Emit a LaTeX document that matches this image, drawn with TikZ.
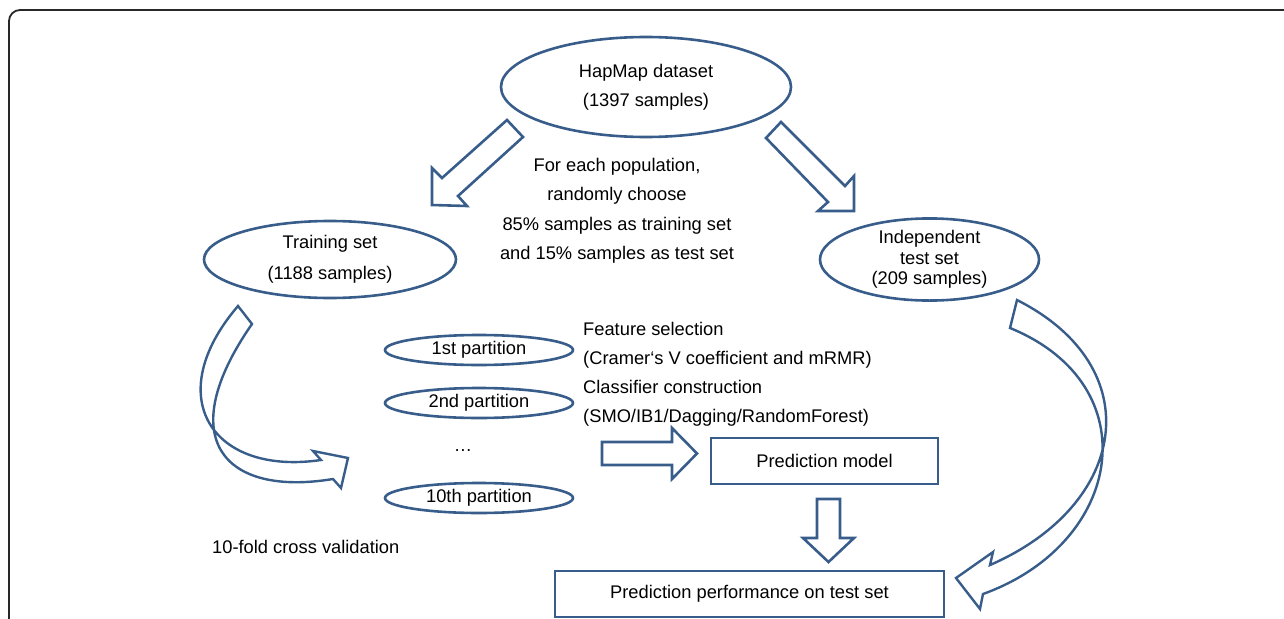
\documentclass[tikz,border=0pt]{standalone}
\usepackage{fontspec}
\setmainfont{Liberation Sans}
\usetikzlibrary{shapes.geometric}
\definecolor{flowblue}{RGB}{56,93,138}
\definecolor{framegray}{RGB}{40,40,40}

\begin{document}
\begin{tikzpicture}[x=1pt,y=-1pt,
  every node/.style={font=\fontsize{18.3}{22}\selectfont, text=black, inner sep=0pt},
  oval/.style={ellipse, draw=flowblue, line width=2.6pt, align=center},
  flowbox/.style={rectangle, draw=flowblue, line width=2.6pt},
  hollow/.style={draw=flowblue, line width=2.6pt, line join=miter},
  bent/.style={draw=flowblue, line width=2.4pt, line join=miter},
]
\useasboundingbox (0,0) rectangle (1284,618);

% outer frame, running off the right and bottom edges
\begin{scope}
  \clip (0,0) rectangle (1284,618);
  \draw[framegray, line width=1.8pt, rounded corners=11pt] (9,700) -- (9,10) -- (1340,10);
\end{scope}

% data sets
\node[oval, minimum width=290, minimum height=100, font=\fontsize{18.3}{29}\selectfont]
  (hapmap) at (646,87) {HapMap dataset\\(1397 samples)};
\node[oval, minimum width=252, minimum height=77, font=\fontsize{18.3}{31}\selectfont]
  (train) at (330,259.5) {Training set\\(1188 samples)};
\node[oval, minimum width=219, minimum height=75, font=\fontsize{18.3}{20.5}\selectfont]
  (test) at (929.5,259.5) {Independent\\test set\\(209 samples)};

\node[align=center, font=\fontsize{18.3}{29.5}\selectfont] (split) at (617,211)
  {For each population,\\randomly choose\\85\% samples as training set\\and 15\% samples as test set};

% partitions of the training set
\node[oval, minimum width=188, minimum height=30] (p1) at (479,350) {1st partition};
\node[oval, minimum width=188, minimum height=30] (p2) at (479,403) {2nd partition};
\node (pdots) at (463,451) {…};
\node[oval, minimum width=188, minimum height=30] (p10) at (479,498) {10th partition};

\node[anchor=west, align=left, font=\fontsize{18.3}{29}\selectfont] (steps) at (583,374)
  {Feature selection\\(Cramer‘s V coefficient and mRMR)\\Classifier construction\\(SMO/IB1/Dagging/RandomForest)};

\node (cv) [anchor=west] at (212,547) {10-fold cross validation};

% models and evaluation
\node[flowbox, minimum width=227, minimum height=46] (model) at (824.5,461) {Prediction model};
\node[flowbox, minimum width=389, minimum height=46] (perf) at (749.5,594) {Prediction performance on test set};

% straight block arrows
\draw[hollow] (507,120) -- (523,137) -- (458,196) -- (467,206) -- (432,205)
  -- (432,168) -- (442,178) -- cycle;
\draw[hollow] (781,122) -- (845,186) -- (854,176) -- (854,211) -- (818,211)
  -- (828,202) -- (766,138) -- cycle;
\draw[hollow] (602,442) -- (672,442) -- (672,428) -- (697,453.5) -- (672,479)
  -- (672,465) -- (602,465) -- cycle;
\draw[hollow] (817,499) -- (840,499) -- (840,538) -- (854,538) -- (828.5,562)
  -- (803,538) -- (817,538) -- cycle;

% curved block arrow: training set round to the partitions
\draw[bent] (238,306) .. controls (160,397) and (212,476) .. (321,460)
  -- (313,451) -- (348,458) -- (341,488) -- (333,479)
  .. controls (224,497) and (172,439) .. (252,324) -- cycle;

% curved block arrow: independent test set down to the evaluation
\draw[bent] (1017,300) .. controls (1150.5,367.5) and (1128,505) .. (990,565)
  -- (993,552) -- (956,578) -- (980,609) -- (983,594)
  .. controls (1124,543) and (1149.5,385) .. (1010,328) -- cycle;
\end{tikzpicture}
\end{document}
